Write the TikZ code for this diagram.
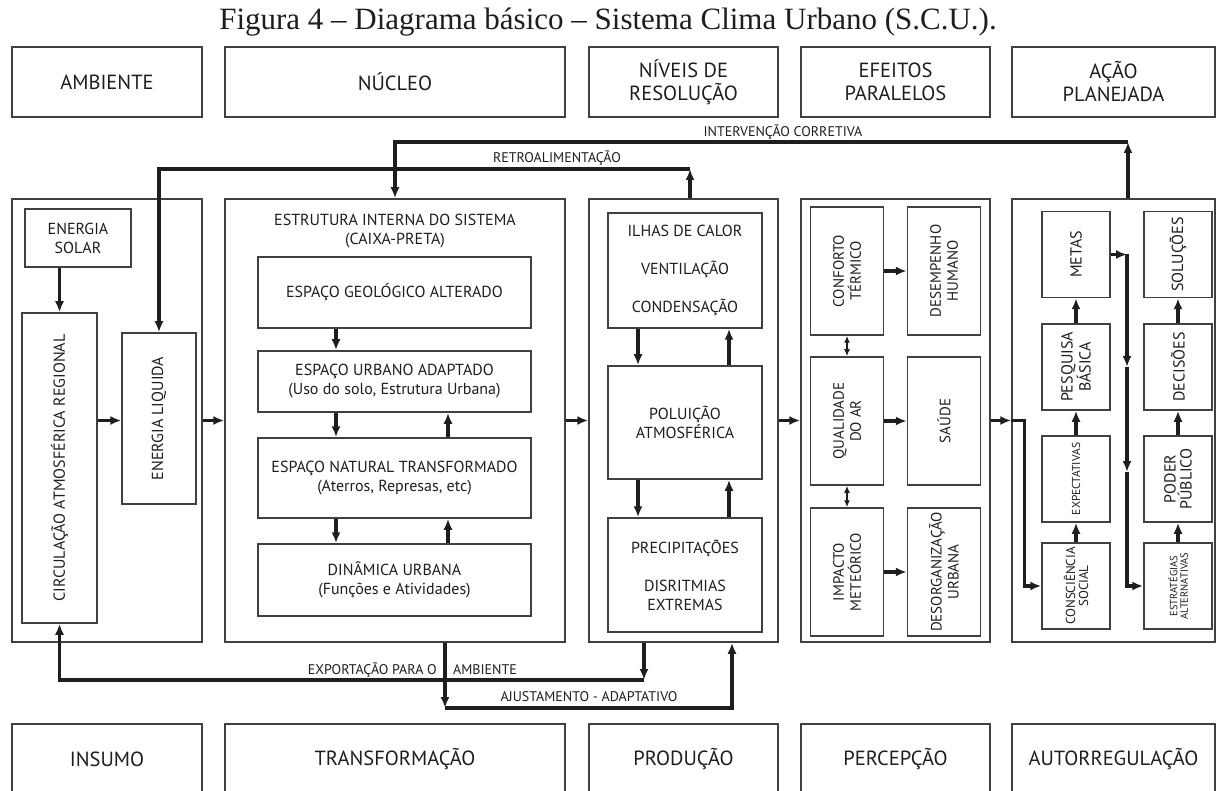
\documentclass[tikz,border=0pt]{standalone}
\usepackage{fontspec}
\setmainfont{PT Sans}
\newfontfamily\titulo{Liberation Serif}
\usetikzlibrary{arrows.meta}

\definecolor{linha}{HTML}{404040}
\definecolor{tinta}{HTML}{1E1E1E}
\newcommand{\tam}[2]{\fontsize{#1}{#2}\selectfont}

\begin{document}
\begin{tikzpicture}[x=1pt,y=-1pt,
    every node/.style={text=tinta},
    caixa/.style={draw=linha, line width=1.5pt, inner sep=0pt, align=center},
    seta/.style={-{Latex[length=11pt,width=9pt]}, line width=3.2pt, draw=tinta},
    duplo/.style={{Latex[length=7pt,width=6pt]}-{Latex[length=7pt,width=6pt]}, line width=1.8pt, draw=tinta},
    rotulo/.style={font=\tam{14}{16}, inner sep=1pt}]
  \useasboundingbox (0,0) rectangle (1218,791);
  \clip (0,0) rectangle (1218,791);

  \node[font=\titulo\tam{31}{36}] (tit) at (608,22) {Figura 4 – Diagrama básico – Sistema Clima Urbano (S.C.U.).};

  % as tres faixas
  \foreach \n/\cx/\lx/\t in {Amb/107/190/AMBIENTE, Nuc/395/340/NÚCLEO,
      Pro/683.5/189/{NÍVEIS DE\\RESOLUÇÃO}, Per/895.5/189/{EFEITOS\\PARALELOS},
      Aca/1113.5/203/{AÇÃO\\PLANEJADA}}
    \node[caixa, minimum width=\lx, minimum height=70, font=\tam{20.5}{23}] (h\n) at (\cx,82) {\t};
  \foreach \n/\cx/\lx in {Amb/107/190, Nuc/395/340, Pro/683.5/189, Per/895.5/189, Aca/1113.5/203}
    \node[caixa, minimum width=\lx, minimum height=443] (m\n) at (\cx,420.5) {};
  \foreach \n/\cx/\lx/\t in {Amb/107/190/INSUMO, Nuc/395/340/TRANSFORMAÇÃO,
      Pro/683.5/189/PRODUÇÃO, Per/895.5/189/PERCEPÇÃO, Aca/1113.5/203/AUTORREGULAÇÃO}
    \node[caixa, minimum width=\lx, minimum height=70, font=\tam{20.5}{23}] (b\n) at (\cx,759) {\t};

  % ambiente
  \node[caixa, minimum width=106, minimum height=58, font=\tam{16}{19}] (solar) at (78,238) {ENERGIA\\SOLAR};
  \node[caixa, minimum width=75, minimum height=310] (circ) at (59.5,468) {};
  \node[rotate=90, font=\tam{16}{19}] at (circ) {CIRCULAÇÃO ATMOSFÉRICA REGIONAL};
  \node[caixa, minimum width=74, minimum height=171] (liq) at (159,418.5) {};
  \node[rotate=90, font=\tam{16}{19}] at (liq) {ENERGIA LIQUIDA};
  \draw[seta] (circ.north |- solar.south) -- (circ.north);
  \draw[seta] (circ.east |- mAmb.east) -- (liq.west |- mAmb.east);
  \draw[seta] (mAmb.east) -- (mNuc.west);

  % nucleo
  \node[font=\tam{16}{19}, align=center] (estr) at (395,231) {ESTRUTURA INTERNA DO SISTEMA\\(CAIXA-PRETA)};
  \node[caixa, minimum width=273, minimum height=71, font=\tam{16}{19}] (geo) at (394.5,292.5) {ESPAÇO GEOLÓGICO ALTERADO};
  \node[caixa, minimum width=273, minimum height=61, font=\tam{16}{19}] (urb) at (394.5,381.5) {ESPAÇO URBANO ADAPTADO\\(Uso do solo, Estrutura Urbana)};
  \node[caixa, minimum width=273, minimum height=80, font=\tam{16}{19}] (nat) at (394.5,478) {ESPAÇO NATURAL TRANSFORMADO\\(Aterros, Represas, etc)};
  \node[caixa, minimum width=273, minimum height=72, font=\tam{16}{19}] (din) at (394.5,580) {DINÂMICA URBANA\\(Funções e Atividades)};
  \coordinate (xa) at (336,0);
  \coordinate (xb) at (448,0);
  \draw[seta] (geo.south -| xa) -- (urb.north -| xa);
  \foreach \a/\b in {urb/nat, nat/din} {
    \draw[seta] (\a.south -| xa) -- (\b.north -| xa);
    \draw[seta] (\b.north -| xb) -- (\a.south -| xb);
  }
  \draw[seta] (mNuc.east) -- (mPro.west);

  % producao
  \node[caixa, minimum width=154, minimum height=115, font=\tam{16}{19}] (ilhas) at (685,270.5) {ILHAS DE CALOR\\[19pt]VENTILAÇÃO\\[19pt]CONDENSAÇÃO};
  \node[caixa, minimum width=154, minimum height=113, font=\tam{16}{19}] (polu) at (685,422.5) {POLUIÇÃO\\ATMOSFÉRICA};
  \node[caixa, minimum width=154, minimum height=114, font=\tam{16}{19}] (prec) at (685,575) {PRECIPITAÇÕES\\[19pt]DISRITMIAS\\EXTREMAS};
  \coordinate (xc) at (638,0);
  \coordinate (xd) at (729,0);
  \foreach \a/\b in {ilhas/polu, polu/prec} {
    \draw[seta] (\a.south -| xc) -- (\b.north -| xc);
    \draw[seta] (\b.north -| xd) -- (\a.south -| xd);
  }
  \draw[seta] (mPro.east) -- (mPer.west);

  % percepcao
  \foreach \n/\cx/\cy/\t in {conf/847/271/{CONFORTO\\TÉRMICO}, desemp/944/271/{DESEMPENHO\\HUMANO},
      qual/847/421/{QUALIDADE\\DO AR}, saude/944/421/SAÚDE,
      imp/847/572/{IMPACTO\\METEÓRICO}, desorg/944/572/{DESORGANIZAÇÃO\\URBANA}} {
    \node[caixa, minimum width=73, minimum height=128] (\n) at (\cx,\cy) {};
    \node[rotate=90, align=center, font=\tam{15}{17}] at (\n) {\t};
  }
  \foreach \a/\b in {conf/desemp, qual/saude, imp/desorg}
    \draw[seta] (\a) -- (\b);
  \draw[duplo] (conf) -- (qual);
  \draw[duplo] (qual) -- (imp);

  % autorregulacao
  \foreach \n/\cx/\cy/\f/\t in {metas/1076/254.5/16/METAS, pesq/1076/367/16/{PESQUISA\\BÁSICA},
      expect/1076/479/11.5/EXPECTATIVAS, consc/1076/586/13/{CONSCIÊNCIA\\SOCIAL},
      solu/1178/254.5/16/SOLUÇÕES, decis/1178/367/16/DECISÕES,
      poder/1178/479/16/{PODER\\PÚBLICO}, estrat/1178/586/10.5/{ESTRATÉGIAS\\ALTERNATIVAS}} {
    \node[caixa, minimum width=68, minimum height=86] (\n) at (\cx,\cy) {};
    \node[rotate=90, align=center, font=\tam{\f}{\f}] at (\n) {\t};
  }
  \foreach \a/\b in {consc/expect, expect/pesq, pesq/metas, estrat/poder, poder/decis, decis/solu}
    \draw[seta] (\a) -- (\b);
  \coordinate (xv) at (1127,0);
  \coordinate (m1) at (1127,367);
  \coordinate (m2) at (1127,472);
  \draw[seta] (metas.east) -- (metas.east -| xv);
  \draw[seta] (metas.east -| xv) -- (m1);
  \draw[seta] (m1) -- (m2);
  \draw[seta] (m2) |- (estrat.west);
  \draw[seta] (mPer.east) -- (mAca.west);
  \draw[seta] (mAca.west) -- ++(13,0) |- (consc.west);

  % retroalimentacao e intervencao
  \coordinate (r1) at (690,169);
  \draw[seta] (mPro.north -| r1) -- (r1);
  \draw[seta] (r1) -| (liq.north);
  \node[rotulo] (retro) at (557,158) {RETROALIMENTAÇÃO};
  \coordinate (i1) at (1128,142);
  \draw[seta] (mAca.north -| i1) -- (i1);
  \draw[seta] (i1) -| (mNuc.north);
  \node[rotulo] (interv) at (783,132) {INTERVENÇÃO CORRETIVA};

  % exportacao e ajustamento
  \coordinate (e1) at (644,680);
  \draw[seta] (mPro.south -| e1) -- (e1);
  \draw[seta] (e1) -| (circ.south);
  \node[rotulo, anchor=east] (exp) at (438,670) {EXPORTAÇÃO PARA O};
  \node[rotulo, anchor=west] (amb) at (452,670) {AMBIENTE};
  \coordinate (a1) at (445,708);
  \coordinate (a2) at (732,708);
  \draw[seta] (mNuc.south -| a1) -- (a1);
  \draw[seta] (a1) -- (a2) -- (mPro.south -| a2);
  \node[rotulo] (ajust) at (589,697) {AJUSTAMENTO - ADAPTATIVO};
\end{tikzpicture}
\end{document}
